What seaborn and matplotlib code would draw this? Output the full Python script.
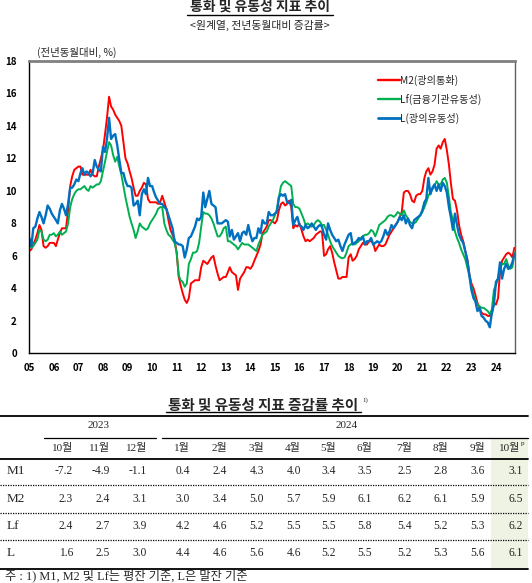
import pandas as pd
import numpy as np
import matplotlib.pyplot as plt
from matplotlib.lines import Line2D
from matplotlib.patches import Rectangle
import seaborn as sns

# monthly growth rates (yoy, %), Jan 2005 - Oct 2024
m2 = [
    6.3, 6.4, 6.7, 7.0, 7.4, 7.9, 7.6, 6.6, 6.5, 6.6, 6.8, 6.8,
    6.8, 6.6, 7.0, 7.4, 7.7, 7.7, 7.7, 8.8, 10.3, 10.9, 11.3, 11.4,
    11.5, 11.5, 11.0, 11.0, 11.0, 11.0, 11.3, 11.0, 10.9, 10.9, 11.5, 12.0,
    12.5, 13.5, 14.5, 15.8, 15.2, 15.0, 14.7, 14.5, 14.3, 14.0, 13.0, 12.0,
    11.7, 11.2, 10.8, 10.2, 9.7, 9.7, 10.0, 10.2, 10.5, 10.4, 9.5, 9.3,
    9.3, 9.3, 9.3, 9.2, 9.3, 9.7, 9.3, 8.9, 8.2, 7.6, 7.3, 7.0,
    6.2, 4.7, 4.2, 3.7, 3.3, 3.1, 3.4, 4.3, 4.4, 4.5, 4.5, 4.5,
    5.3, 5.7, 5.6, 5.5, 5.7, 5.9, 6.0, 5.4, 4.9, 4.5, 4.6, 4.7,
    4.7, 5.0, 5.3, 5.0, 4.9, 4.8, 3.9, 4.6, 4.8, 5.0, 5.3, 5.3,
    5.2, 5.4, 5.7, 6.0, 6.3, 6.7, 7.4, 7.6, 7.8, 8.2, 8.2, 8.1,
    8.0, 8.2, 8.8, 9.2, 9.3, 9.1, 9.2, 9.4, 9.0, 7.7, 7.9, 7.8,
    8.0, 7.6, 7.2, 6.9, 7.0, 6.9, 7.0, 7.1, 7.3, 7.4, 7.5, 7.5,
    6.0, 6.1, 6.4, 6.6, 6.2, 5.6, 5.1, 4.6, 4.6, 4.7, 4.7, 4.7,
    5.9, 6.1, 5.7, 5.8, 6.0, 6.4, 6.6, 6.8, 6.7, 6.7, 6.9, 6.9,
    6.8, 6.3, 6.5, 6.7, 6.6, 6.6, 6.7, 7.0, 7.3, 7.5, 7.7, 7.9,
    8.1, 8.4, 8.7, 9.9, 10.0, 10.0, 9.8, 9.4, 9.3, 9.7, 9.8, 9.8,
    10.0, 10.8, 11.2, 11.4, 11.0, 11.2, 11.6, 12.6, 12.8, 12.6, 13.0, 13.2,
    12.5, 11.6, 10.5, 9.5, 9.4, 8.8, 7.9, 7.3, 6.9, 6.3, 5.8, 4.9,
    4.3, 4.0, 3.6, 3.1, 2.8, 2.5, 2.4, 2.4, 2.3, 2.3, 2.4, 3.1,
    3.0, 3.4, 5.0, 5.7, 5.9, 6.1, 6.2, 6.1, 5.9, 6.5,
]

lf = [
    7.0, 6.5, 6.6, 6.8, 7.0, 7.6, 7.5, 7.0, 6.9, 7.0, 7.3, 7.3,
    7.4, 7.2, 7.3, 7.5, 7.3, 7.4, 7.5, 8.0, 9.0, 9.5, 9.8, 10.0,
    10.1, 10.1, 10.2, 10.3, 10.1, 10.0, 10.3, 10.2, 10.3, 10.4, 10.4, 10.6,
    11.2, 11.8, 12.4, 13.0, 12.8, 12.2, 11.8, 12.1, 11.5, 11.0, 10.3, 9.6,
    9.0, 8.4, 8.0, 7.6, 7.1, 7.5, 8.0, 7.8, 7.7, 7.6, 7.7, 8.0,
    8.2, 8.4, 8.6, 8.9, 9.0, 9.0, 8.0, 7.6, 7.3, 7.2, 7.0, 6.8,
    6.2, 4.8, 4.5, 4.4, 4.1, 4.3, 5.5, 5.8, 6.2, 6.2, 6.3, 6.8,
    7.8, 8.7, 8.6, 8.6, 8.5, 8.3, 8.0, 7.6, 7.2, 7.2, 7.4, 7.7,
    7.8, 6.9, 6.9, 6.8, 6.7, 6.6, 6.4, 6.6, 6.8, 6.7, 6.7, 6.7,
    6.6, 6.5, 6.4, 6.3, 6.7, 7.0, 7.3, 7.4, 7.5, 7.8, 8.0, 8.2,
    8.5, 8.9, 9.6, 10.3, 10.5, 10.6, 10.5, 10.4, 10.3, 9.2, 9.0, 9.0,
    8.9, 8.6, 8.3, 7.9, 8.0, 7.9, 7.8, 7.9, 8.1, 8.2, 8.1, 7.9,
    7.9, 7.6, 7.3, 6.9, 6.6, 6.4, 6.2, 6.0, 5.9, 5.85, 5.9, 6.2,
    6.6, 6.7, 6.8, 6.7, 6.8, 6.9, 7.1, 7.2, 7.3, 7.3, 7.4, 7.6,
    7.5, 7.2, 7.5, 7.9, 8.0, 8.1, 8.2, 8.4, 8.5, 8.5, 8.4, 8.5,
    8.7, 8.6, 8.5, 8.8, 8.5, 8.3, 8.1, 8.0, 8.0, 8.1, 8.3, 8.5,
    8.7, 9.0, 9.3, 9.7, 9.9, 10.1, 10.3, 10.6, 10.4, 10.4, 10.7, 10.8,
    10.5, 9.6, 8.7, 8.2, 7.5, 7.1, 6.8, 6.4, 6.1, 5.8, 5.3, 4.8,
    4.1, 3.6, 3.3, 3.0, 2.9, 2.8, 2.8, 2.7, 2.6, 2.4, 2.7, 3.9,
    4.2, 4.6, 5.2, 5.5, 5.5, 5.8, 5.4, 5.2, 5.3, 6.2,
]

l_liq = [
    7.1, 6.6, 7.7, 7.8, 8.3, 8.7, 8.4, 8.0, 8.5, 9.1, 8.9, 8.6,
    8.4, 8.2, 8.0, 8.8, 9.2, 8.9, 8.5, 9.2, 10.2, 10.2, 10.4, 10.7,
    10.6, 11.1, 11.4, 11.0, 11.2, 11.1, 10.9, 11.1, 11.9, 11.5, 11.3, 11.2,
    12.7, 12.4, 13.2, 14.5, 13.2, 13.4, 13.5, 12.8, 11.9, 11.1, 11.1, 10.6,
    10.3, 10.3, 10.2, 9.1, 9.2, 9.4, 8.5, 9.8, 10.1, 9.8, 10.8, 10.3,
    10.3, 9.9, 9.6, 9.4, 9.2, 9.2, 9.0, 8.9, 8.5, 8.1, 7.7, 6.9,
    6.8, 6.7, 6.7, 6.6, 5.9, 6.4, 7.1, 7.2, 7.5, 7.8, 8.3, 8.2,
    8.4, 9.9, 9.0, 9.5, 10.0, 9.2, 9.1, 9.0, 8.0, 8.0, 8.0, 8.1,
    8.2, 8.1, 7.2, 7.6, 7.0, 7.2, 7.4, 6.9, 7.4, 7.5, 7.3, 7.9,
    7.3, 6.9, 7.1, 7.1, 7.7, 7.4, 8.2, 8.0, 8.0, 8.7, 8.5, 8.5,
    8.6, 8.7, 9.6, 9.8, 9.7, 9.8, 9.3, 9.25, 9.45, 7.9, 8.2, 8.4,
    7.9, 7.8, 7.6, 7.9, 7.7, 7.8, 8.0, 7.8, 7.6, 7.8, 7.9, 7.8,
    7.3, 7.0, 8.0, 7.6, 7.3, 7.1, 6.9, 7.0, 6.6, 6.3, 6.7, 7.0,
    7.3, 7.4, 6.7, 6.8, 6.9, 7.1, 7.0, 7.2, 6.7, 6.9, 6.9, 7.1,
    6.7, 6.8, 6.9, 6.8, 6.9, 7.2, 7.6, 7.3, 7.5, 7.9, 7.7, 7.9,
    8.1, 8.4, 8.2, 8.5, 8.0, 8.3, 7.9, 7.7, 8.2, 8.3, 8.4, 8.5,
    8.8, 9.3, 9.5, 10.8, 9.8, 10.2, 10.4, 10.0, 10.4, 10.0, 10.5, 10.3,
    9.9, 9.0, 8.4, 7.6, 8.6, 7.9, 7.3, 7.0, 6.8, 6.3, 5.7, 4.8,
    3.9, 3.4, 3.2, 2.6, 2.8, 2.3, 2.2, 2.0, 1.9, 1.6, 2.5, 3.0,
    4.4, 4.6, 5.6, 4.6, 5.2, 5.5, 5.2, 5.3, 5.6, 6.1,
]

series_names = ['M2(광의통화)', 'Lf(금융기관유동성)', 'L(광의유동성)']
year_labels = [f'{y % 100:02d}' for y in range(2005, 2025)]

# table
tbl_years = ['2023', '2024']
tbl_months = ['10월', '11월', '12월', '1월', '2월', '3월', '4월', '5월',
              '6월', '7월', '8월', '9월', '10월']
tbl_rows = ['M1', 'M2', 'Lf', 'L']
m1_tbl = [-7.2, -4.9, -1.1, 0.4, 2.4, 4.3, 4.0, 3.4, 3.5, 2.5, 2.8, 3.6, 3.1]
m2_tbl = [2.3, 2.4, 3.1, 3.0, 3.4, 5.0, 5.7, 5.9, 6.1, 6.2, 6.1, 5.9, 6.5]
lf_tbl = [2.4, 2.7, 3.9, 4.2, 4.6, 5.2, 5.5, 5.5, 5.8, 5.4, 5.2, 5.3, 6.2]
l_tbl = [1.6, 2.5, 3.0, 4.4, 4.6, 5.6, 4.6, 5.2, 5.5, 5.2, 5.3, 5.6, 6.1]

dates = pd.date_range('2005-01-01', periods=len(m2), freq='MS')
df = pd.DataFrame({'date': dates, series_names[0]: m2,
                   series_names[1]: lf, series_names[2]: l_liq})
long = df.melt(id_vars='date', var_name='series', value_name='rate')

sns.set_style('white')
plt.rcParams['font.family'] = ['Noto Sans CJK KR', 'DejaVu Sans']
SERIF = ['Liberation Serif', 'Noto Sans CJK KR']

W, H = 532, 583
fig = plt.figure(figsize=(W / 100, H / 100), dpi=100)


def fx(x):
    return x / W


def fy(y):
    return 1 - y / H


def hline(x0, x1, y, **kw):
    fig.add_artist(Line2D([fx(x0), fx(x1)], [fy(y), fy(y)],
                          transform=fig.transFigure, **kw))


# ---- chart ----
ax = fig.add_axes([fx(29.3), fy(353.3), (515 - 29.3) / W, 292.3 / H])
colors = {series_names[0]: '#FF0000', series_names[1]: '#00B050',
          series_names[2]: '#0070C0'}
widths = {series_names[0]: 1.4, series_names[1]: 1.4, series_names[2]: 1.7}
for name in series_names:
    sub = long[long['series'] == name]
    sns.lineplot(data=sub, x='date', y='rate', color=colors[name],
                 linewidth=widths[name], label=name, ax=ax, legend=False)

ax.set_xlim(pd.Timestamp('2005-01-01'), pd.Timestamp('2024-10-10'))
ax.set_ylim(0, 18)
ax.set_yticks(range(0, 19, 2))
ax.set_xticks([pd.Timestamp(f'{y}-01-01') for y in range(2005, 2025)])
ax.set_xticklabels(year_labels)
ax.set_xlabel('')
ax.set_ylabel('')
ax.tick_params(axis='both', direction='in', length=3, width=0.8,
               color='#808080', labelsize=7, labelcolor='black')
ax.tick_params(axis='y', pad=9)
ax.tick_params(axis='x', pad=7)
for lab in ax.get_xticklabels() + ax.get_yticklabels():
    lab.set_fontweight('bold')
for s in ['left', 'bottom']:
    ax.spines[s].set_color('black')
    ax.spines[s].set_linewidth(1.0)
ax.spines['top'].set_color('#808080')
ax.spines['top'].set_linewidth(2.0)
ax.spines['right'].set_color('#606060')
ax.spines['right'].set_linewidth(1.0)

handles = [Line2D([], [], color=colors[n], lw=widths[n] + 0.3) for n in series_names]
ax.legend(handles, series_names, loc='upper left', frameon=False,
          bbox_to_anchor=(fx(378), fy(75)), bbox_transform=fig.transFigure,
          fontsize=7.3, handlelength=2.2, handletextpad=0.0, borderpad=0,
          borderaxespad=0, labelspacing=0.75)

fig.text(fx(260), fy(7), '통화 및 유동성 지표 추이', ha='center', va='center',
         fontsize=10, fontweight='bold')
hline(187, 333, 15, color='black', lw=1.0)
fig.text(fx(260), fy(25), '<원계열, 전년동월대비 증감률>', ha='center',
         va='center', fontsize=7.8)
fig.text(fx(37), fy(52), '(전년동월대비, %)', ha='left', va='center',
         fontsize=7.5)

# ---- table ----
fig.text(fx(263), fy(405), '통화 및 유동성 지표 증감률 추이', ha='center',
         va='center', fontsize=10.5, fontweight='bold')
fig.text(fx(362), fy(400), '1)', ha='left', va='center', fontsize=5,
         family=SERIF)
hline(166, 361, 412, color='black', lw=1.0)

col_right = [73, 110, 147, 190, 227, 264, 301, 336, 372, 412, 448, 485, 520]
row_y = [471.5, 499, 526, 553]

fig.add_artist(Rectangle((fx(491), fy(568)), fx(528) - fx(491),
                         fy(438) - fy(568), transform=fig.transFigure,
                         facecolor='#EEF3E4', edgecolor='none', zorder=0))

hline(0, 528, 415.5, color='black', lw=1.3)
hline(44, 156, 437.5, color='black', lw=0.9)
hline(162, 528, 437.5, color='black', lw=0.9)
hline(0, 528, 458.5, color='black', lw=1.3)
for yy in [484.5, 512.5, 539.5]:
    hline(0, 528, yy, color='black', lw=0.9, linestyle=(0, (1, 1)))
hline(0, 528, 568.5, color='black', lw=1.3)

fig.text(fx(99), fy(426), tbl_years[0], ha='center', va='center',
         fontsize=8, family=SERIF)
fig.text(fx(347), fy(426), tbl_years[1], ha='center', va='center',
         fontsize=8, family=SERIF)

for i, mlab in enumerate(tbl_months):
    fig.text(fx(col_right[i]), fy(447.5), mlab, ha='right', va='center',
             fontsize=8, family=SERIF)
fig.text(fx(521), fy(444), 'p', ha='left', va='center', fontsize=5,
         family=SERIF)

val_cols = [m1_tbl, m2_tbl, lf_tbl, l_tbl]
for r, (lab, vals) in enumerate(zip(tbl_rows, val_cols)):
    fig.text(fx(7), fy(row_y[r]), lab, ha='left', va='center', fontsize=9.5,
             family=SERIF)
    for i, v in enumerate(vals):
        x = col_right[i] + (3 if i == len(vals) - 1 else 0)
        fig.text(fx(x), fy(row_y[r]), f'{v:.1f}', ha='right', va='center',
                 fontsize=8.3, family=SERIF)

fig.text(fx(5), fy(576), '주 : 1) M1, M2 및 Lf는 평잔 기준, L은 말잔 기준',
         ha='left', va='center', fontsize=8.8, family=SERIF)

fig.savefig('out.png', dpi=100)
